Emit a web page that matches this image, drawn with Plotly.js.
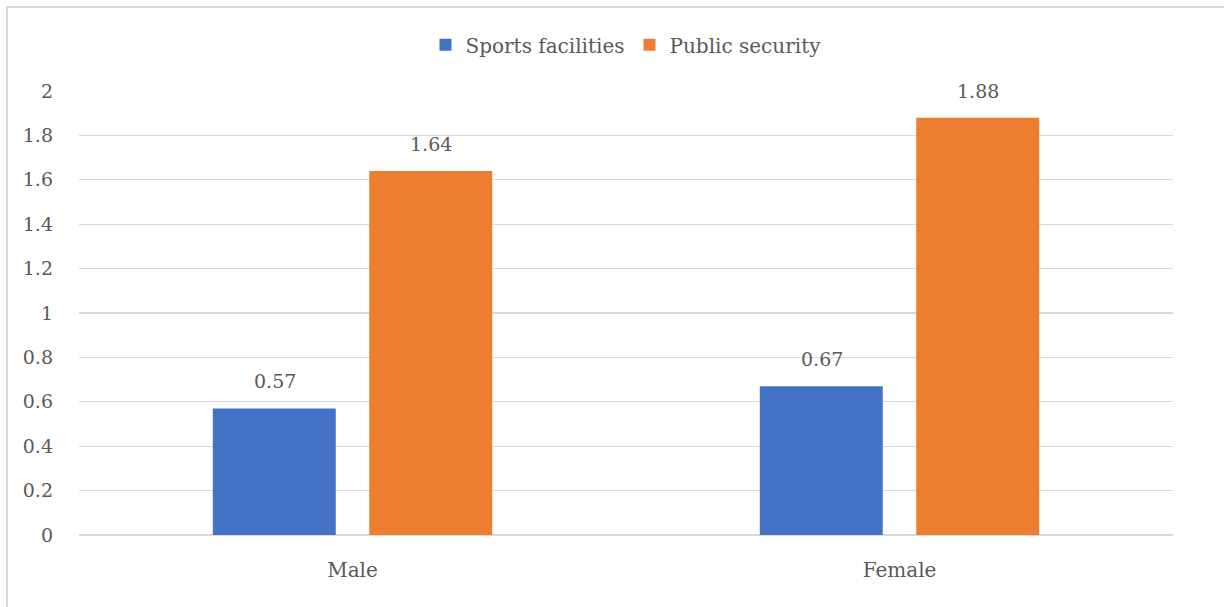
<!DOCTYPE html>
<html>
<head>
<meta charset="utf-8">
<script src="https://cdn.plot.ly/plotly-3.0.1.min.js"></script>
<style>html,body{margin:0;padding:0;background:#fff;}#chart{width:1224px;height:607px;}</style>
</head>
<body>
<div id="chart"></div>
<script>
const categories = ["Male", "Female"];
const seriesNames = ["Sports facilities", "Public security"];
const sportsFacilities = [0.57, 0.67];
const publicSecurity = [1.64, 1.88];
const yTickVals = [0, 0.2, 0.4, 0.6, 0.8, 1, 1.2, 1.4, 1.6, 1.8, 2];
const yTickText = ["0", "0.2", "0.4", "0.6", "0.8", "1", "1.2", "1.4", "1.6", "1.8", "2"];

const FONT = "DejaVu Serif";
const TXT = "#595959";
const colors = ["#4472C4", "#ED7D31"];
const series = [sportsFacilities, publicSecurity];

const traces = series.map((vals, i) => ({
  type: "bar",
  name: seriesNames[i],
  x: categories,
  y: vals,
  marker: {color: colors[i]},
  hoverinfo: "skip"
}));

const annotations = [];
series.forEach((vals, i) => {
  vals.forEach((v, j) => {
    annotations.push({
      x: categories[j], y: v, xref: "x", yref: "y",
      text: String(v), showarrow: false,
      xshift: i === 0 ? -78 : 78, yshift: 27,
      font: {family: FONT, size: 19, color: TXT}
    });
  });
});

const layout = {
  width: 1224, height: 607,
  margin: {l: 79, r: 51, t: 91, b: 72},
  paper_bgcolor: "#fff", plot_bgcolor: "#fff",
  font: {family: FONT, size: 19, color: TXT},
  barmode: "group",
  bargap: 0.428,
  bargroupgap: 0.214,
  showlegend: true,
  legend: {orientation: "h", x: 0.5, xanchor: "center", y: 1.104, yanchor: "middle",
    font: {family: FONT, size: 20, color: TXT}, itemwidth: 30, tracegroupgap: 0},
  xaxis: {type: "category", showgrid: false, zeroline: false, showline: false,
    ticks: "", ticklabelstandoff: 21, tickfont: {family: FONT, size: 20, color: TXT}},
  yaxis: {range: [0, 2], tickvals: yTickVals, ticktext: yTickText, showgrid: true,
    gridcolor: "#D9D9D9", gridwidth: 1.3, zeroline: true, zerolinecolor: "#D9D9D9", zerolinewidth: 1.3,
    showline: false, ticks: "", ticklabelstandoff: 25, tickfont: {family: FONT, size: 19, color: TXT}},
  annotations: annotations,
  shapes: [{type: "rect", xref: "paper", yref: "paper", x0: -0.0658, x1: 1.2, y0: -0.5, y1: 1.189,
    line: {color: "#D9D9D9", width: 2}, fillcolor: "rgba(0,0,0,0)", layer: "below"}]
};

Plotly.newPlot("chart", traces, layout, {displayModeBar: false, staticPlot: true});
</script>
</body>
</html>
